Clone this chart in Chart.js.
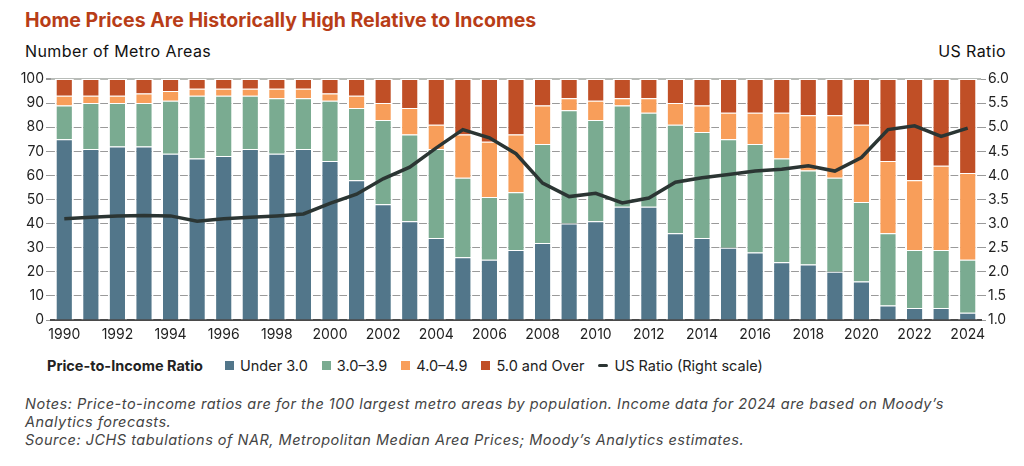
<!DOCTYPE html>
<html>
<head>
<meta charset="utf-8">
<script src="https://cdn.jsdelivr.net/npm/chart.js@4.4.1/dist/chart.umd.min.js"></script>
<style>
  body { margin: 0; background: #fff; font-family: Inter, "Noto Sans", sans-serif; color: #111; }
  #wrap { position: relative; width: 1024px; height: 466px; overflow: hidden; }
  #title { position: absolute; left: 25px; top: 8px; font-size: 19.5px; font-weight: 700; color: #B83D17; }
  .axisTitle { position: absolute; top: 41px; font-size: 16px; color: #111; letter-spacing: 0.4px; }
  #chartBox { position: absolute; left: 0; top: 66px; width: 1024px; height: 280px; }
  #legend { position: absolute; left: 47px; top: 357px; display: flex; align-items: center; font-size: 14.5px; color: #222; }
  #legend .head { font-weight: 700; margin-right: 22px; }
  #legend .item { display: flex; align-items: center; margin-right: 14px; }
  #legend .box { width: 9px; height: 9px; margin-right: 6px; }
  #legend .line { width: 10px; height: 3px; border-radius: 2px; margin-right: 6px; }
  #notes { position: absolute; left: 25px; top: 395px; font-size: 14.5px; font-style: italic; color: #444; line-height: 18px; letter-spacing: 0.5px; white-space: nowrap; }
</style>
</head>
<body>
<div id="wrap">
  <div id="title">Home Prices Are Historically High Relative to Incomes</div>
  <div class="axisTitle" style="left:25px">Number of Metro Areas</div>
  <div class="axisTitle" style="right:18px">US Ratio</div>
  <div id="chartBox"><canvas id="priceChart"></canvas></div>
  <div id="legend"></div>
  <div id="notes">
    Notes: Price-to-income ratios are for the 100 largest metro areas by population. Income data for 2024 are based on Moody’s<br>
    Analytics forecasts.<br>
    Source: JCHS tabulations of NAR, Metropolitan Median Area Prices; Moody’s Analytics estimates.
  </div>
</div>
<script>
const years = ["1990","1991","1992","1993","1994","1995","1996","1997","1998","1999",
  "2000","2001","2002","2003","2004","2005","2006","2007","2008","2009",
  "2010","2011","2012","2013","2014","2015","2016","2017","2018","2019",
  "2020","2021","2022","2023","2024"];

const under30 = [75,71,72,72,69,67,68,71,69,71,66,58,48,41,34,26,25,29,32,40,41,47,47,36,34,30,28,24,23,20,16,6,5,5,3];
const from30to39 = [14,19,18,18,22,26,25,22,23,21,25,30,35,36,37,33,26,24,41,47,42,42,39,45,44,45,45,43,39,39,33,30,24,24,22];
const from40to49 = [4,3,3,4,4,3,3,3,4,4,3,5,7,11,10,18,23,24,16,5,8,3,6,9,11,11,13,19,23,26,32,30,29,35,36];
const over50 = [7,7,7,6,5,4,4,4,4,4,6,7,10,12,19,23,26,23,11,8,9,8,8,10,11,14,14,14,15,15,19,34,42,36,39];
const usRatio = [3.10,3.13,3.16,3.17,3.16,3.05,3.10,3.13,3.16,3.20,3.42,3.61,3.93,4.17,4.57,4.95,4.78,4.45,3.84,3.56,
  3.63,3.43,3.53,3.86,3.95,4.02,4.09,4.13,4.20,4.09,4.37,4.95,5.03,4.81,4.98];

const leftTicks = [0,10,20,30,40,50,60,70,80,90,100];
const rightTicks = [1.0,1.5,2.0,2.5,3.0,3.5,4.0,4.5,5.0,5.5,6.0];

const barColors = ["#52768A", "#7AAB91", "#F89E5A", "#C04F26"];
const lineColor = "#2B3533";

function barSet(label, data, color) {
  return {
    type: "bar",
    label: label,
    data: data,
    backgroundColor: color,
    borderColor: "#ffffff",
    borderWidth: { top: 1, left: 2, right: 2, bottom: 0 },
    borderSkipped: false,
    stack: "metros",
    yAxisID: "y",
    categoryPercentage: 1.0,
    barPercentage: 0.72,
    order: 2
  };
}

const datasets = [
  barSet("Under 3.0", under30, barColors[0]),
  barSet("3.0–3.9", from30to39, barColors[1]),
  barSet("4.0–4.9", from40to49, barColors[2]),
  barSet("5.0 and Over", over50, barColors[3]),
  {
    type: "line",
    label: "US Ratio (Right scale)",
    data: usRatio,
    borderColor: lineColor,
    borderWidth: 3.5,
    pointRadius: 0,
    tension: 0,
    yAxisID: "y1",
    order: 0
  }
];

// legend in html
const legendEl = document.getElementById("legend");
legendEl.innerHTML = '<span class="head">Price-to-Income Ratio</span>' + datasets.map(ds => {
  const mark = ds.type === "line"
    ? `<span class="line" style="background:${ds.borderColor}"></span>`
    : `<span class="box" style="background:${ds.backgroundColor}"></span>`;
  return `<span class="item">${mark}${ds.label}</span>`;
}).join("");

const tickFont = { family: "Inter, 'Noto Sans', sans-serif", size: 14 };

new Chart(document.getElementById("priceChart").getContext("2d"), {
  data: { labels: years, datasets: datasets },
  options: {
    responsive: true,
    maintainAspectRatio: false,
    animation: false,
    layout: { padding: { top: 13, left: 0, right: 0, bottom: 0 } },
    plugins: { legend: { display: false }, tooltip: { enabled: false } },
    scales: {
      x: {
        stacked: true,
        offset: true,
        grid: { display: false, drawTicks: false },
        border: { color: "#4a4a4a", width: 2 },
        ticks: {
          autoSkip: false,
          maxRotation: 0,
          padding: 6,
          color: "#222",
          font: tickFont,
          callback: function (v, i) { return i % 2 === 0 ? years[i] : ""; }
        },
        afterFit: s => { s.height = 26; }
      },
      y: {
        stacked: true,
        position: "left",
        min: 0,
        max: 100,
        afterBuildTicks: s => { s.ticks = leftTicks.map(v => ({ value: v })); },
        grid: {
          color: c => c.tick && c.tick.value === 100 ? "#b8bcb8" : "#9a9a9a",
          lineWidth: c => c.tick && c.tick.value === 100 ? 2 : 1,
          tickLength: 5,
          tickColor: "#9a9a9a"
        },
        border: { display: false },
        ticks: { padding: 2, color: "#222", font: tickFont },
        afterFit: s => { s.width = 51; }
      },
      y1: {
        position: "right",
        min: 1.0,
        max: 6.0,
        afterBuildTicks: s => { s.ticks = rightTicks.map(v => ({ value: v })); },
        grid: { drawOnChartArea: false, tickLength: 5, color: "#9a9a9a" },
        border: { display: false },
        ticks: { padding: 2, color: "#222", font: tickFont, callback: v => v.toFixed(1) },
        afterFit: s => { s.width = 43; }
      }
    }
  }
});
</script>
</body>
</html>
